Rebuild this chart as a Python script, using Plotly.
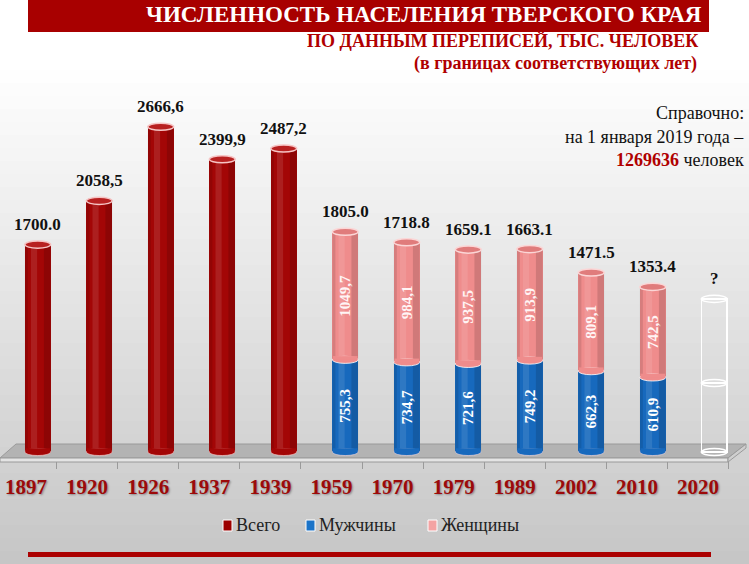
import plotly.graph_objects as go

# ---------------- data ----------------
years = ["1897", "1920", "1926", "1937", "1939", "1959", "1970",
         "1979", "1989", "2002", "2010", "2020"]
total_only = [1700.0, 2058.5, 2666.6, 2399.9, 2487.2,
              None, None, None, None, None, None, None]
men = [None, None, None, None, None,
       755.3, 734.7, 721.6, 749.2, 662.3, 610.9, None]
women = [None, None, None, None, None,
         1049.7, 984.1, 937.5, 913.9, 809.1, 742.5, None]
total_labels = ["1700.0", "2058,5", "2666,6", "2399,9", "2487,2", "1805.0",
                "1718.8", "1659.1", "1663.1", "1471.5", "1353.4", "?"]
men_labels = ["", "", "", "", "", "755,3", "734,7", "721,6", "749,2",
              "662,3", "610,9", ""]
women_labels = ["", "", "", "", "", "1049,7", "984,1", "937,5", "913,9",
                "809,1", "742,5", ""]
# empty future census (2020) outline
placeholder_lower = [None] * 11 + [565]
placeholder_upper = [None] * 11 + [690]
series_names = ["Всего", "Мужчины", "Женщины"]

# ---------------- style ----------------
RED = "#a30606"
BLUE = "#1769bd"
PINK = "#ef8c8c"
DARKRED = "#9c0a0a"
SERIF = "Liberation Serif"

W, H = 749, 564
L, R, T, B = 7, 4, 86, 103
PW, PH = W - L - R, H - T - B


def xp(px):
    return (px - L) / PW


def yp(py):
    return (H - B - py) / PH


def tops(i):
    if total_only[i] is not None:
        return total_only[i]
    if men[i] is not None:
        return men[i] + women[i]
    return placeholder_lower[i] + placeholder_upper[i]


fig = go.Figure()
fig.add_trace(go.Bar(x=years, y=total_only, name=series_names[0],
                     marker=dict(color=RED, line=dict(width=0)),
                     hoverinfo="skip"))
fig.add_trace(go.Bar(x=years, y=men, name=series_names[1],
                     marker=dict(color=BLUE, line=dict(width=0)),
                     text=men_labels, textposition="inside",
                     insidetextanchor="middle", textangle=-90,
                     insidetextfont=dict(family=SERIF, size=15, color="white",
                                         weight="bold"),
                     hoverinfo="skip"))
fig.add_trace(go.Bar(x=years, y=women, name=series_names[2],
                     marker=dict(color=PINK, line=dict(width=0)),
                     text=women_labels, textposition="inside",
                     insidetextanchor="middle", textangle=-90,
                     insidetextfont=dict(family=SERIF, size=15, color="#fff4f4",
                                         weight="bold"),
                     hoverinfo="skip"))
for vals in (placeholder_lower, placeholder_upper):
    fig.add_trace(go.Bar(x=years, y=vals, showlegend=False,
                         marker=dict(color="rgba(0,0,0,0)",
                                     line=dict(color="white", width=1.5)),
                         hoverinfo="skip"))
# helper so that the (perspective-shifted) label axis is drawn
fig.add_trace(go.Scatter(x=list(range(len(years))), y=[None] * len(years),
                         xaxis="x2", yaxis="y", mode="markers",
                         showlegend=False, hoverinfo="skip"))

shapes = []
# background gradient
N = 38
top_px, bot_px = 70, H
step = (bot_px - top_px) / N
shapes.append(dict(type="rect", xref="paper", yref="paper", layer="below",
                   x0=xp(0), x1=xp(W), y0=yp(0), y1=yp(top_px + 1),
                   fillcolor="#ffffff", line=dict(width=0)))
for k in range(N):
    t = (k + 0.5) / N
    c = int(255 - t * (255 - 198))
    shapes.append(dict(type="rect", xref="paper", yref="paper", layer="below",
                       x0=xp(0), x1=xp(W),
                       y0=yp(top_px + k * step), y1=yp(top_px + (k + 1) * step + 1),
                       fillcolor=f"rgb({c},{c},{c})", line=dict(width=0)))
# title bar
shapes.append(dict(type="rect", xref="paper", yref="paper", layer="below",
                   x0=xp(28), x1=xp(709), y0=yp(0), y1=yp(32),
                   fillcolor="#a80000", line=dict(width=0)))
# bottom red rule
shapes.append(dict(type="rect", xref="paper", yref="paper", layer="below",
                   x0=xp(28), x1=xp(711), y0=yp(552), y1=yp(557),
                   fillcolor="#ab0000", line=dict(width=0)))
# floor (3D slab)
shapes.append(dict(type="path", xref="paper", yref="paper", layer="below",
                   path=f"M {xp(16)},{yp(444)} L {xp(746)},{yp(444)} "
                        f"L {xp(728)},{yp(458)} L {xp(0)},{yp(458)} Z",
                   fillcolor="#b3b3b3", line=dict(color="#9a9a9a", width=1)))
shapes.append(dict(type="path", xref="paper", yref="paper", layer="below",
                   path=f"M {xp(0)},{yp(458)} L {xp(728)},{yp(458)} "
                        f"L {xp(728)},{yp(462)} L {xp(0)},{yp(462)} Z",
                   fillcolor="#e4e4e4", line=dict(color="#9a9a9a", width=1)))
shapes.append(dict(type="path", xref="paper", yref="paper", layer="below",
                   path=f"M {xp(728)},{yp(458)} L {xp(746)},{yp(444)} "
                        f"L {xp(746)},{yp(448)} L {xp(728)},{yp(462)} Z",
                   fillcolor="#cfcfcf", line=dict(color="#9a9a9a", width=1)))

# cylinder ellipses computed from the data
hw = 0.21
eh = 29
for i in range(len(years)):
    if total_only[i] is not None:
        body, cap, rim = RED, "#b82020", "#f6c4c4"
        top = total_only[i]
    elif men[i] is not None:
        body, cap, rim = BLUE, "#e07c7c", "#fbd6d6"
        top = men[i] + women[i]
    else:
        body = None
        top = tops(i)
    if body is not None:
        # shading strips
        shapes.append(dict(type="rect", xref="x", yref="y", layer="above",
                           x0=i + 0.10, x1=i + hw, y0=0, y1=top,
                           fillcolor="rgba(0,0,0,0.13)", line=dict(width=0)))
        shapes.append(dict(type="rect", xref="x", yref="y", layer="above",
                           x0=i - hw, x1=i - 0.16, y0=0, y1=top,
                           fillcolor="rgba(0,0,0,0.10)", line=dict(width=0)))
        shapes.append(dict(type="rect", xref="x", yref="y", layer="above",
                           x0=i - 0.11, x1=i - 0.01, y0=0, y1=top,
                           fillcolor="rgba(255,255,255,0.10)", line=dict(width=0)))
        # rounded bottom
        bcol = RED if total_only[i] is not None else BLUE
        shapes.append(dict(type="circle", xref="x", yref="y", layer="above",
                           x0=i - hw, x1=i + hw, y0=-eh, y1=eh,
                           fillcolor=bcol, line=dict(color="rgba(255,220,220,0.6)", width=1)))
        shapes.append(dict(type="rect", xref="x", yref="y", layer="above",
                           x0=i - hw + 0.01, x1=i + hw - 0.01, y0=0, y1=eh + 2,
                           fillcolor=bcol, line=dict(width=0)))
        # boundary between men and women
        if men[i] is not None:
            shapes.append(dict(type="circle", xref="x", yref="y", layer="above",
                               x0=i - hw, x1=i + hw, y0=men[i] - eh, y1=men[i] + eh,
                               fillcolor=PINK, line=dict(color="rgba(255,255,255,0.8)", width=1)))
            shapes.append(dict(type="rect", xref="x", yref="y", layer="above",
                               x0=i - hw + 0.01, x1=i + hw - 0.01,
                               y0=men[i], y1=men[i] + eh + 2,
                               fillcolor=PINK, line=dict(width=0)))
        # top cap
        shapes.append(dict(type="circle", xref="x", yref="y", layer="above",
                           x0=i - hw, x1=i + hw, y0=top - eh, y1=top + eh,
                           fillcolor=cap, line=dict(color=rim, width=1.5)))
    else:
        for yv in (0, placeholder_lower[i], top):
            shapes.append(dict(type="circle", xref="x", yref="y", layer="above",
                               x0=i - hw, x1=i + hw, y0=yv - eh, y1=yv + eh,
                               fillcolor="rgba(0,0,0,0)",
                               line=dict(color="white", width=1.5)))

annotations = []
for i, lab in enumerate(total_labels):
    annotations.append(dict(x=i, y=tops(i), xref="x", yref="y",
                            text=lab, showarrow=False, yshift=20,
                            font=dict(family=SERIF, size=17, color="#111111",
                                      weight="bold")))

# legend (drawn as keys + labels so the key sits next to its text)
legend_colors = ["#9c0000", "#1a73c8", "#f4a3a3"]
legend_key_x = [223, 306, 428]
for name, col, kx in zip(series_names, legend_colors, legend_key_x):
    shapes.append(dict(type="rect", xref="paper", yref="paper", layer="above",
                       x0=xp(kx), x1=xp(kx + 9), y0=yp(531), y1=yp(520),
                       fillcolor=col, line=dict(color="white", width=1)))
    annotations.append(dict(xref="paper", yref="paper", x=xp(kx + 11), y=yp(525),
                            xanchor="left", yanchor="middle", showarrow=False,
                            text=name,
                            font=dict(family=SERIF, size=18, color="#222222")))

annotations += [
    dict(xref="paper", yref="paper", x=xp(704), y=yp(14), xanchor="right",
         yanchor="middle", showarrow=False,
         text="ЧИСЛЕННОСТЬ НАСЕЛЕНИЯ ТВЕРСКОГО КРАЯ",
         font=dict(family=SERIF, size=23, color="white", weight="bold")),
    dict(xref="paper", yref="paper", x=xp(700), y=yp(41), xanchor="right",
         yanchor="middle", showarrow=False,
         text="ПО ДАННЫМ ПЕРЕПИСЕЙ, ТЫС. ЧЕЛОВЕК",
         font=dict(family=SERIF, size=18, color="#b00000", weight="bold")),
    dict(xref="paper", yref="paper", x=xp(699), y=yp(63), xanchor="right",
         yanchor="middle", showarrow=False,
         text="(в границах соответствующих лет)",
         font=dict(family=SERIF, size=18, color="#b00000", weight="bold")),
    dict(xref="paper", yref="paper", x=xp(746), y=yp(113), xanchor="right",
         yanchor="middle", showarrow=False, text="Справочно:",
         font=dict(family=SERIF, size=18, color="#111111")),
    dict(xref="paper", yref="paper", x=xp(746), y=yp(137), xanchor="right",
         yanchor="middle", showarrow=False, text="на 1 января 2019 года –",
         font=dict(family=SERIF, size=18, color="#111111")),
    dict(xref="paper", yref="paper", x=xp(746), y=yp(160), xanchor="right",
         yanchor="middle", showarrow=False,
         text="<b><span style='color:#b00000'>1269636</span></b> человек",
         font=dict(family=SERIF, size=18, color="#111111")),
]

fig.update_layout(
    width=W, height=H,
    margin=dict(l=L, r=R, t=T, b=B, pad=0),
    barmode="stack", bargap=0.58,
    paper_bgcolor="white", plot_bgcolor="rgba(0,0,0,0)",
    showlegend=False,
    shapes=shapes,
    annotations=annotations,
)
fig.update_layout(
    xaxis=dict(type="category", categoryorder="array", categoryarray=years,
               range=[-0.5, 11.5], showgrid=False, zeroline=False,
               showline=False, ticks="", showticklabels=False),
    xaxis2=dict(overlaying="x", anchor="free", position=0, side="bottom",
                type="linear", range=[-0.311, 11.768],
                tickmode="array", tickvals=list(range(len(years))),
                ticktext=years, ticks="", ticklabelstandoff=11,
                showgrid=False, zeroline=False, showline=False,
                tickfont=dict(family=SERIF, size=21, color=DARKRED,
                              weight="bold", shadow="1px 1px 2px #8a8a8a"),
                minor=dict(tickmode="array",
                           tickvals=[i - 0.5 for i in range(len(years) + 1)],
                           ticks="outside", ticklen=7, tickcolor="#9a9a9a",
                           showgrid=False)),
    yaxis=dict(range=[-50, 3000], domain=[(H - B - 458.1) / PH, 1],
               visible=False, showgrid=False, zeroline=False),
)

fig.write_html("out.html",
               config={"displayModeBar": False},
               post_script="document.body.style.margin='0px';"
                           "document.body.style.overflow='hidden';")
